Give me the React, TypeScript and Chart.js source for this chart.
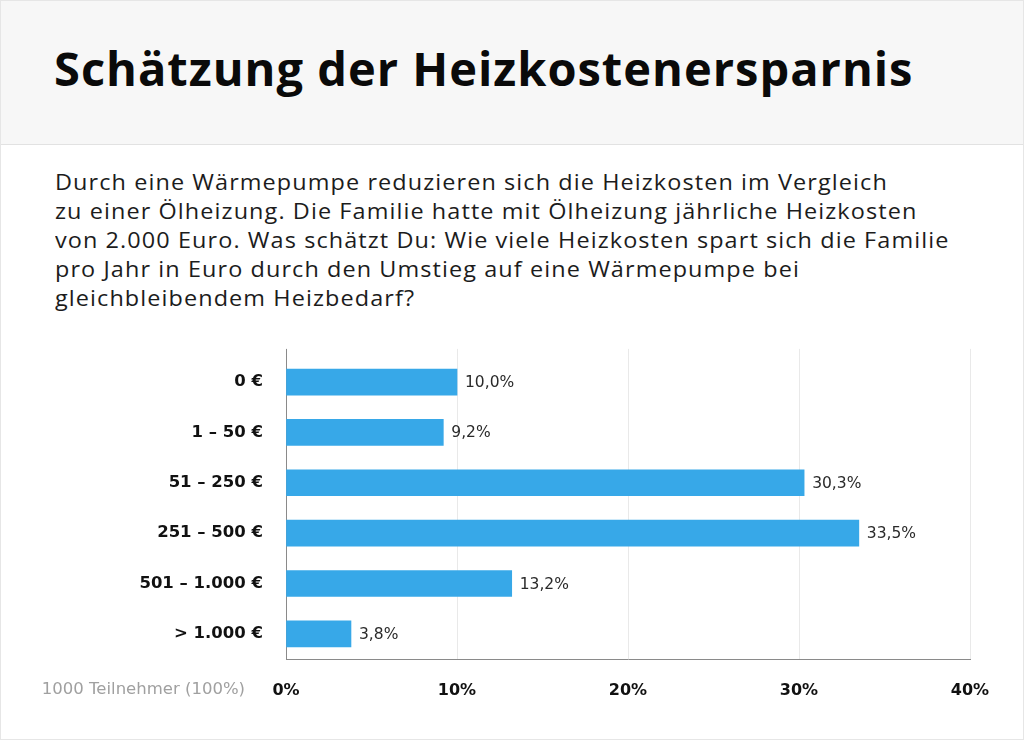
import React, { useEffect, useRef } from "react";
import { Chart, registerables } from "chart.js";

Chart.register(...registerables);

const title = "Schätzung der Heizkostenersparnis";
const questionLines = [
  "Durch eine Wärmepumpe reduzieren sich die Heizkosten im Vergleich",
  "zu einer Ölheizung. Die Familie hatte mit Ölheizung jährliche Heizkosten",
  "von 2.000 Euro. Was schätzt Du: Wie viele Heizkosten spart sich die Familie",
  "pro Jahr in Euro durch den Umstieg auf eine Wärmepumpe bei",
  "gleichbleibendem Heizbedarf?",
];
const categories = ["0 €", "1 – 50 €", "51 – 250 €", "251 – 500 €", "501 – 1.000 €", "> 1.000 €"];
const shares = [10.0, 9.2, 30.3, 33.5, 13.2, 3.8];
const xTickValues = [0, 10, 20, 30, 40];
const footnote = "1000 Teilnehmer (100%)";

const TITLE_FONT = "'Open Sans', 'Noto Sans', sans-serif";
const TEXT_FONT = "'Open Sans', 'Noto Sans', sans-serif";
const FONT = "'DejaVu Sans', 'Open Sans', sans-serif";
const BAR_COLOR = "#37a8e8";

const fmt = (v: number) => v.toFixed(1).replace(".", ",") + "%";

const valueLabels = {
  id: "valueLabels",
  afterDatasetsDraw(chart: any) {
    const ctx = chart.ctx;
    const meta = chart.getDatasetMeta(0);
    ctx.save();
    ctx.font = `400 15.5px ${FONT}`;
    ctx.fillStyle = "#2a2a2a";
    ctx.textBaseline = "middle";
    ctx.textAlign = "left";
    meta.data.forEach((bar: any, i: number) => {
      ctx.fillText(fmt(shares[i]), bar.x + 8, bar.y + 1);
    });
    ctx.restore();
  },
};

const gridExtend = {
  id: "gridExtend",
  beforeDatasetsDraw(chart: any) {
    const ctx = chart.ctx;
    const x = chart.scales.x;
    const top = chart.chartArea.top;
    ctx.save();
    ctx.lineWidth = 1;
    xTickValues.forEach((v) => {
      const px = Math.round(x.getPixelForValue(v)) + 0.5;
      ctx.strokeStyle = v === 0 ? "#8a8a8a" : "#e9e9e9";
      ctx.beginPath();
      ctx.moveTo(px, top - 8);
      ctx.lineTo(px, top);
      ctx.stroke();
    });
    ctx.restore();
  },
};

export default function App() {
  const ref = useRef<HTMLCanvasElement | null>(null);

  useEffect(() => {
    if (!ref.current) return;
    const chart = new Chart(ref.current, {
      type: "bar",
      data: {
        labels: categories,
        datasets: [
          {
            data: shares,
            backgroundColor: BAR_COLOR,
            barThickness: 26,
            borderWidth: 0,
          },
        ],
      },
      plugins: [gridExtend, valueLabels],
      options: {
        indexAxis: "y",
        animation: false,
        responsive: false,
        devicePixelRatio: 1,
        layout: { padding: { top: 10, right: 55, left: 0, bottom: 0 } },
        plugins: { legend: { display: false }, tooltip: { enabled: false } },
        scales: {
          x: {
            min: 0,
            max: 40,
            afterFit: (s: any) => {
              s.height = 82;
            },
            ticks: {
              stepSize: 10,
              padding: 22,
              color: "#111",
              font: { family: FONT, size: 16, weight: "bold" },
              callback: (v: any) => v + "%",
            },
            grid: { color: "#e9e9e9", drawTicks: false },
            border: { display: true, color: "#8a8a8a" },
          },
          y: {
            afterFit: (s: any) => {
              s.width = 285;
            },
            ticks: {
              padding: 23,
              color: "#111",
              font: { family: FONT, size: 16.5, weight: "bold" },
            },
            grid: { display: false, drawTicks: false },
            border: { display: true, color: "#8a8a8a" },
          },
        },
      },
    });
    return () => chart.destroy();
  }, []);

  return (
    <div
      style={{
        position: "absolute",
        left: 0,
        top: 0,
        width: 1024,
        height: 740,
        background: "#fff",
        boxSizing: "border-box",
        border: "1px solid #e6e6e6",
        overflow: "hidden",
        fontFamily: FONT,
      }}
    >
      <div
        style={{
          position: "absolute",
          left: 0,
          top: 0,
          width: 1024,
          height: 143,
          background: "#f7f7f7",
          borderBottom: "1px solid #e2e2e2",
        }}
      />
      <div
        style={{
          position: "absolute",
          left: 53,
          top: 37,
          fontFamily: TITLE_FONT,
          fontSize: 47,
          fontWeight: 700,
          lineHeight: "60px",
          color: "#0a0a0a",
          whiteSpace: "nowrap",
          letterSpacing: "1px",
        }}
      >
        {title}
      </div>
      <div
        style={{
          position: "absolute",
          left: 54,
          top: 166,
          fontFamily: TEXT_FONT,
          fontSize: 21.5,
          lineHeight: "29px",
          letterSpacing: "1px",
          color: "#1c1c1c",
          whiteSpace: "nowrap",
          transform: "scaleX(1.09)",
          transformOrigin: "0 0",
        }}
      >
        {questionLines.map((l, i) => (
          <div key={i}>{l}</div>
        ))}
      </div>
      <canvas
        ref={ref}
        width={1024}
        height={417}
        style={{ position: "absolute", left: 0, top: 323, width: 1024, height: 417 }}
      />
      <div
        style={{
          position: "absolute",
          right: 1024 - 246,
          top: 676,
          fontSize: 16.5,
          lineHeight: "24px",
          color: "#a0a0a0",
          whiteSpace: "nowrap",
        }}
      >
        {footnote}
      </div>
    </div>
  );
}
